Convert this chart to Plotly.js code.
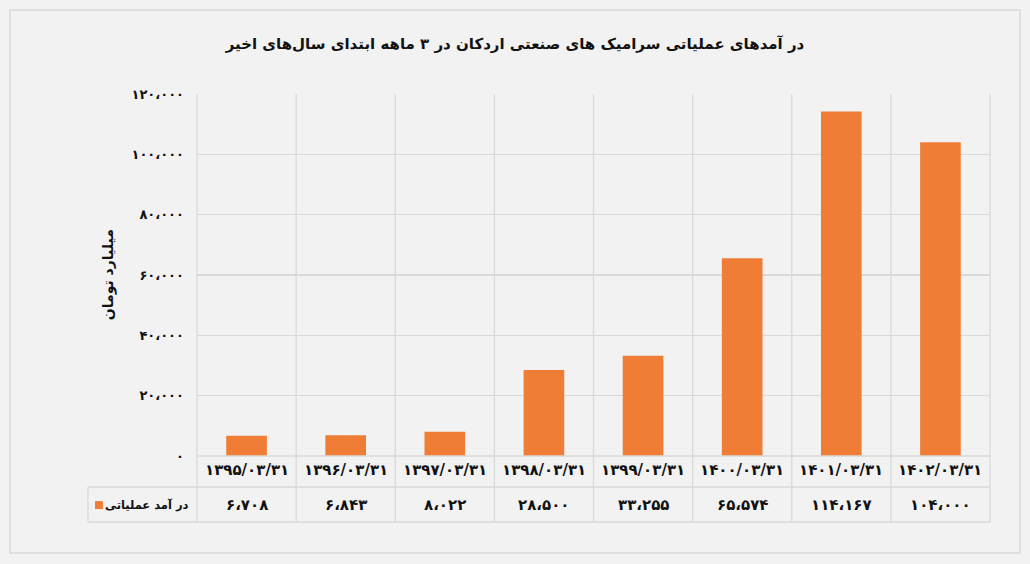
<!DOCTYPE html>
<html><head><meta charset="utf-8">
<script src="https://cdn.plot.ly/plotly-3.0.1.min.js"></script>
<style>html,body{margin:0;padding:0;background:#f2f2f2;}#chart{width:1030px;height:564px;}</style>
</head><body><div id="chart"></div>
<script>
var categories = ["۱۳۹۵/۰۳/۳۱","۱۳۹۶/۰۳/۳۱","۱۳۹۷/۰۳/۳۱","۱۳۹۸/۰۳/۳۱","۱۳۹۹/۰۳/۳۱","۱۴۰۰/۰۳/۳۱","۱۴۰۱/۰۳/۳۱","۱۴۰۲/۰۳/۳۱"];
var revenue = [6708, 6843, 8022, 28500, 33255, 65574, 114167, 104000];
var seriesName = "در آمد عملیاتی";
var yTickVals = [0, 20000, 40000, 60000, 80000, 100000, 120000];
var chartTitle = "در آمدهای عملیاتی سرامیک های صنعتی اردکان در ۳ ماهه ابتدای سال‌های اخیر";
var yTitle = "میلیارد تومان";

function fa(n){
  var s = Math.round(n).toString().replace(/\B(?=(\d{3})+(?!\d))/g, "،");
  return s.replace(/\d/g, function(d){ return "۰۱۲۳۴۵۶۷۸۹"[+d]; });
}

var FONT = "DejaVu Sans";
var grid = "#d9d9d9";
var N = categories.length;
var xIdx = categories.map(function(_, i){ return i; });

var rowMid = -0.0856, rowBot = -0.1823, legLeft = -0.1375;
var shapes = [];
for (var i = 0; i <= N; i++) {
  shapes.push({type:"line", xref:"paper", yref:"paper", x0:i/N, x1:i/N, y0:1, y1:rowBot, line:{color:grid, width:1.3}, layer:"below"});
}
shapes.push({type:"line", xref:"paper", yref:"paper", x0:0, x1:1, y0:0, y1:0, line:{color:grid, width:1.3}});
shapes.push({type:"line", xref:"paper", yref:"paper", x0:legLeft, x1:1, y0:rowMid, y1:rowMid, line:{color:grid, width:1.3}});
shapes.push({type:"line", xref:"paper", yref:"paper", x0:legLeft, x1:1, y0:rowBot, y1:rowBot, line:{color:grid, width:1.3}});
shapes.push({type:"line", xref:"paper", yref:"paper", x0:legLeft, x1:legLeft, y0:rowMid, y1:rowBot, line:{color:grid, width:1.3}});
shapes.push({type:"rect", xref:"paper", yref:"paper", x0:-0.2358, x1:1.0378, y0:1.232, y1:-0.268, line:{color:grid, width:1.5}, layer:"below"});
shapes.push({type:"rect", xref:"paper", yref:"paper", x0:-0.1286, x1:-0.1186, y0:-0.1245, y1:-0.1466, fillcolor:"#f07e37", line:{width:0}});

var annotations = [];
categories.forEach(function(c, i){
  annotations.push({x:i, xref:"x", y:-0.040, yref:"paper", text:"<b>"+c+"</b>", showarrow:false, font:{family:FONT, size:15, color:"#111"}, yanchor:"middle"});
  annotations.push({x:i, xref:"x", y:-0.136, yref:"paper", text:"<b>"+fa(revenue[i])+"</b>", showarrow:false, font:{family:FONT, size:15, color:"#111"}, yanchor:"middle"});
});
annotations.push({x:-0.007, xref:"paper", y:-0.136, yref:"paper", xanchor:"right", yanchor:"middle", text:"<b>"+seriesName+"</b>", showarrow:false, font:{family:FONT, size:11.5, color:"#111"}});
annotations.push({x:-0.112, xref:"paper", y:0.5, yref:"paper", textangle:-90, text:"<b>"+yTitle+"</b>", showarrow:false, font:{family:FONT, size:14, color:"#111"}, xanchor:"center", yanchor:"middle"});

var trace = {
  type:"bar", x:xIdx, y:revenue, name:seriesName,
  marker:{color:"#ef7d36", line:{width:0}},
  width:0.41, hoverinfo:"none"
};

var layout = {
  width:1030, height:564,
  margin:{l:197, r:40, t:94, b:108},
  paper_bgcolor:"#f2f2f2", plot_bgcolor:"#f2f2f2",
  showlegend:false,
  title:{text:"<b>"+chartTitle+"</b>", x:0.5, xref:"container", y:0.922, yref:"container", yanchor:"middle", font:{family:FONT, size:15, color:"#111"}},
  xaxis:{range:[-0.5, N-0.5], showticklabels:false, showgrid:false, zeroline:false, showline:false, ticks:"", fixedrange:true},
  yaxis:{range:[0,120000], tickvals:yTickVals, ticktext:yTickVals.map(function(v){return "<b>"+fa(v)+"</b>";}), showgrid:true, gridcolor:grid, gridwidth:1.3, zeroline:false, showline:false, ticks:"", ticklabelstandoff:12, tickfont:{family:FONT, size:13, color:"#111"}, fixedrange:true},
  shapes:shapes, annotations:annotations
};
Plotly.newPlot("chart", [trace], layout, {displayModeBar:false, staticPlot:true});
</script></body></html>
